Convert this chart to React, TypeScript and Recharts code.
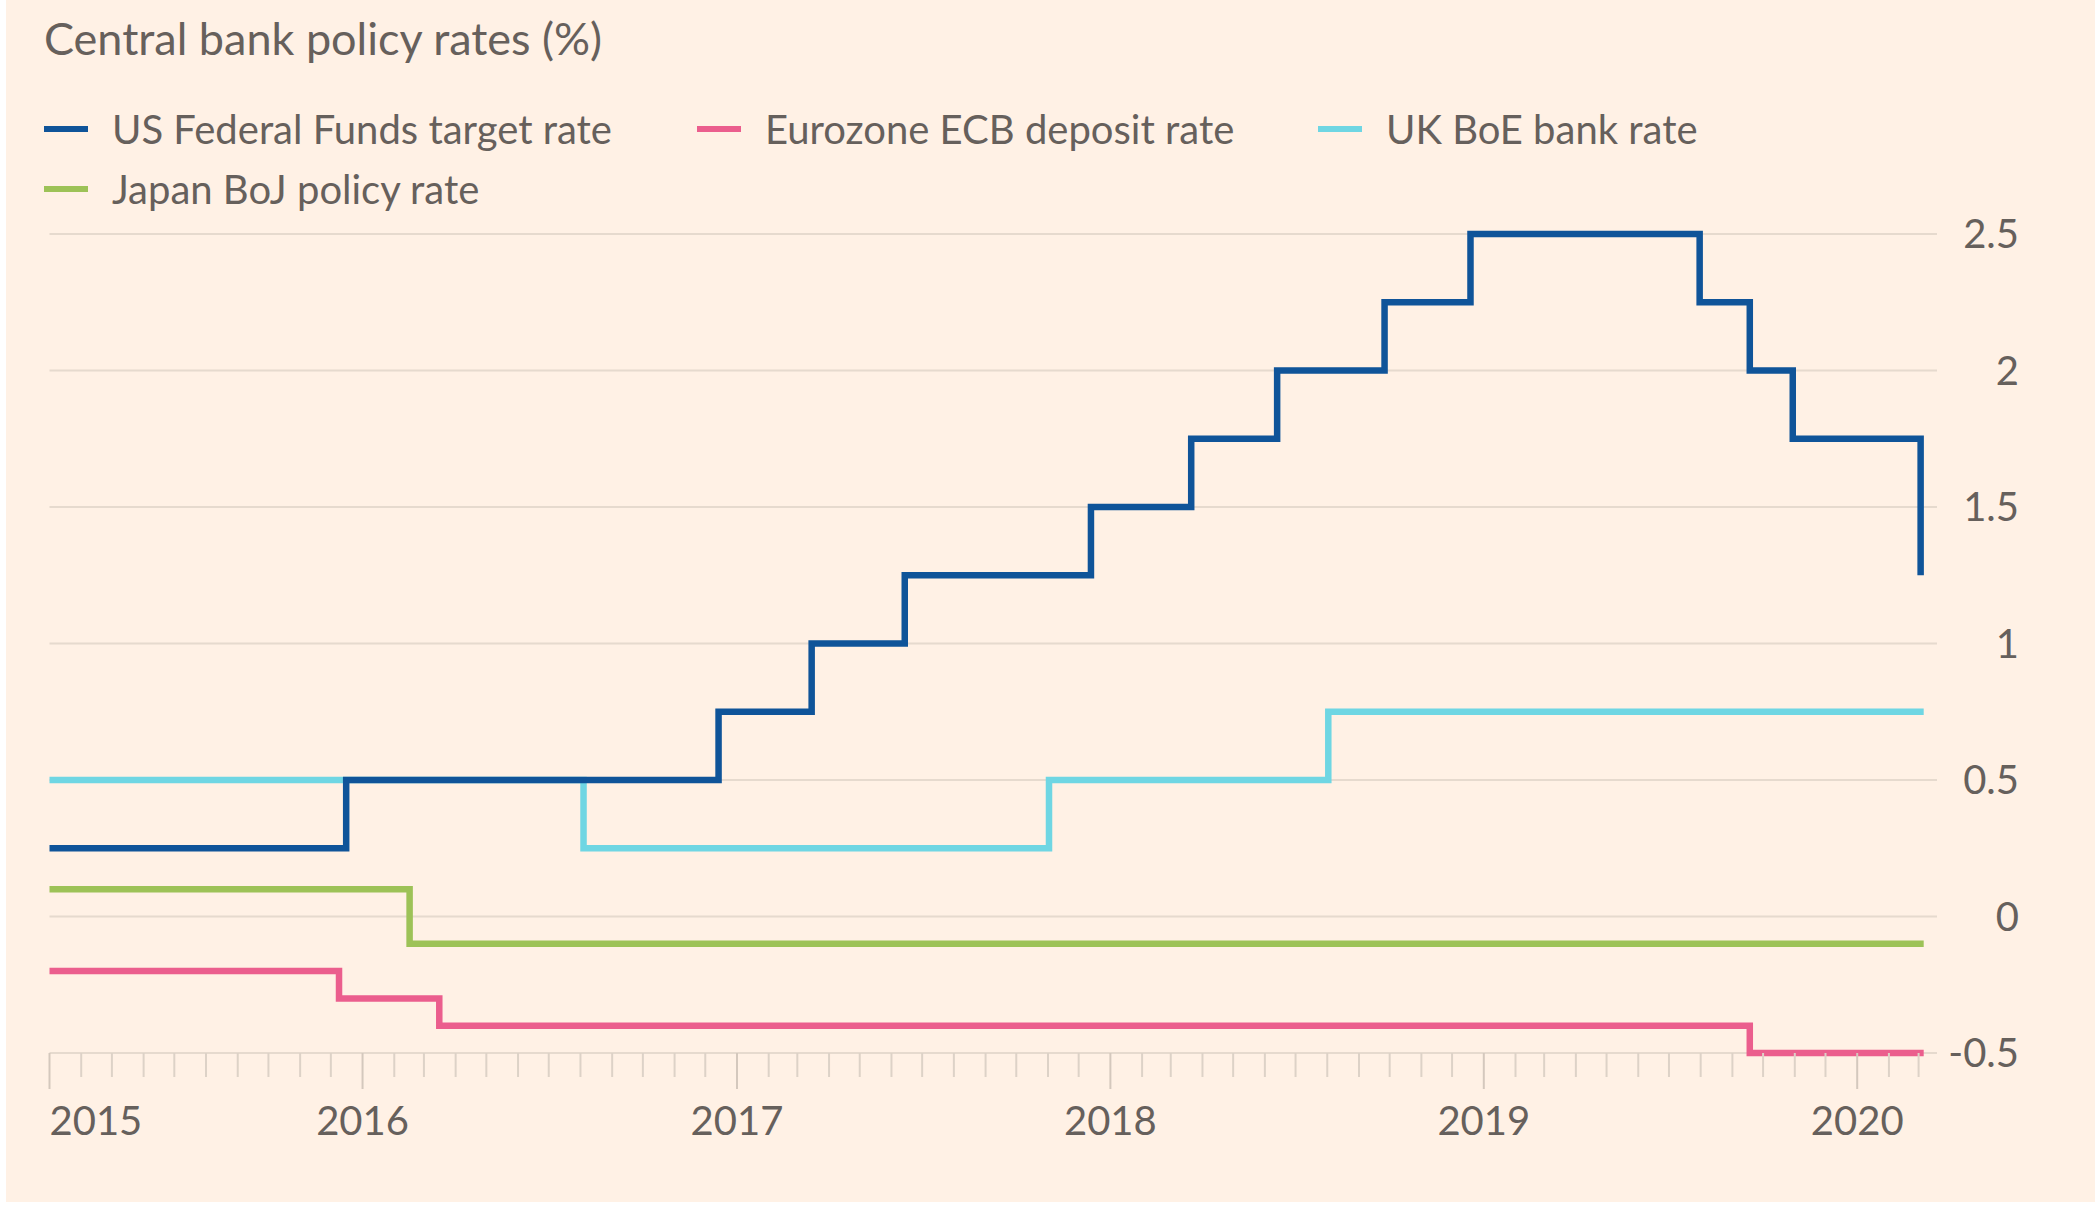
import { LineChart, Line, XAxis, YAxis, CartesianGrid } from 'recharts';

// step dates (rate takes effect on that day) and rates, %
const fedDates = ['2015-03-01', '2015-12-16', '2016-12-14', '2017-03-15', '2017-06-14', '2017-12-13', '2018-03-21', '2018-06-13', '2018-09-26', '2018-12-19', '2019-07-31', '2019-09-18', '2019-10-30', '2020-03-03'];
const fedRates = [0.25, 0.5, 0.75, 1, 1.25, 1.5, 1.75, 2, 2.25, 2.5, 2.25, 2, 1.75, 1.25];

const ecbDates = ['2015-03-01', '2015-12-09', '2016-03-16', '2019-09-18', '2020-03-06'];
const ecbRates = [-0.2, -0.3, -0.4, -0.5, -0.5];

const boeDates = ['2015-03-01', '2016-08-04', '2017-11-02', '2018-08-02', '2020-03-06'];
const boeRates = [0.5, 0.25, 0.5, 0.75, 0.75];

const bojDates = ['2015-03-01', '2016-02-16', '2020-03-06'];
const bojRates = [0.1, -0.1, -0.1];

const yTicks = [-0.5, 0, 0.5, 1, 1.5, 2, 2.5];
const yearLabels = ['2015', '2016', '2017', '2018', '2019', '2020'];

const FONT = 'Lato, "Open Sans", sans-serif';
const TEXT = '#66605c';
const BG = '#fff1e5';

const xStart = Date.parse('2015-03-01');
const xEnd = Date.parse('2020-03-19');

const toPoints = (dates: string[], values: number[]) =>
  dates.map((d, i) => ({ date: Date.parse(d), value: values[i] }));

// monthly tick marks, long ones at each new year
const monthTicks: number[] = [];
for (let i = 0; i <= 60; i++) {
  const t = Date.UTC(2015, 2 + i, 1);
  if (t <= xEnd) monthTicks.push(t);
}

const series = [
  { name: 'Eurozone ECB deposit rate', color: '#eb5e8d', data: toPoints(ecbDates, ecbRates) },
  { name: 'UK BoE bank rate', color: '#6fd6e3', data: toPoints(boeDates, boeRates) },
  { name: 'Japan BoJ policy rate', color: '#9dc257', data: toPoints(bojDates, bojRates) },
  { name: 'US Federal Funds target rate', color: '#0f5499', data: toPoints(fedDates, fedRates) },
];

const legendItems = [
  { name: 'US Federal Funds target rate', color: '#0f5499', x: 38, y: 129 },
  { name: 'Eurozone ECB deposit rate', color: '#eb5e8d', x: 691, y: 129 },
  { name: 'UK BoE bank rate', color: '#6fd6e3', x: 1312, y: 129 },
  { name: 'Japan BoJ policy rate', color: '#9dc257', x: 38, y: 189 },
];

const XTick = ({ x, y, payload }: any) => {
  const d = new Date(payload.value);
  const first = payload.value === xStart;
  const isYear = d.getUTCMonth() === 0;
  const label = first || isYear ? yearLabels[d.getUTCFullYear() - 2015] : null;
  return (
    <g>
      <line x1={x} x2={x} y1={y} y2={y + (label ? 36 : 24)} stroke={label ? '#d4c8bd' : '#ddd2c7'} strokeWidth={2} />
      {label && (
        <text x={x} y={y + 82} textAnchor={first ? 'start' : 'middle'} fill={TEXT} fontSize={40} fontFamily={FONT}>
          {label}
        </text>
      )}
    </g>
  );
};

const YTick = ({ x, y, payload }: any) => (
  <text x={x + 82} y={y + 14} textAnchor="end" fill={TEXT} fontSize={40} fontFamily={FONT}>
    {String(payload.value)}
  </text>
);

export default function App() {
  return (
    <div style={{ position: 'absolute', left: 6, top: 0, width: 2089, height: 1202, background: BG }}>
      <svg width={2089} height={230} style={{ position: 'absolute', left: 0, top: 0 }}>
        <text x={38} y={55} fill={TEXT} fontSize={45} fontFamily={FONT}>
          Central bank policy rates (%)
        </text>
        {legendItems.map((it) => (
          <g key={it.name}>
            <rect x={it.x} y={it.y - 3} width={44} height={6} fill={it.color} />
            <text x={it.x + 68} y={it.y + 15} fill={TEXT} fontSize={40} fontFamily={FONT}>
              {it.name}
            </text>
          </g>
        ))}
      </svg>
      <div style={{ position: 'absolute', left: 0, top: 0 }}>
        <LineChart width={2089} height={1202} margin={{ top: 234, right: 8, bottom: 49, left: 43.5 }}>
          <CartesianGrid vertical={false} stroke="#e6dace" strokeWidth={2} />
          <XAxis
            dataKey="date"
            type="number"
            domain={[xStart, xEnd]}
            ticks={monthTicks}
            interval={0}
            height={100}
            tickSize={0}
            tickMargin={0}
            tickLine={false}
            axisLine={false}
            tick={<XTick />}
          />
          <YAxis
            orientation="right"
            domain={[-0.5, 2.5]}
            ticks={yTicks}
            width={150}
            tickSize={0}
            tickMargin={0}
            tickLine={false}
            axisLine={false}
            tick={<YTick />}
          />
          {series.map((s) => (
            <Line
              key={s.name}
              data={s.data}
              dataKey="value"
              name={s.name}
              type="stepAfter"
              stroke={s.color}
              strokeWidth={6.5}
              dot={false}
              activeDot={false}
              isAnimationActive={false}
            />
          ))}
        </LineChart>
      </div>
    </div>
  );
}
